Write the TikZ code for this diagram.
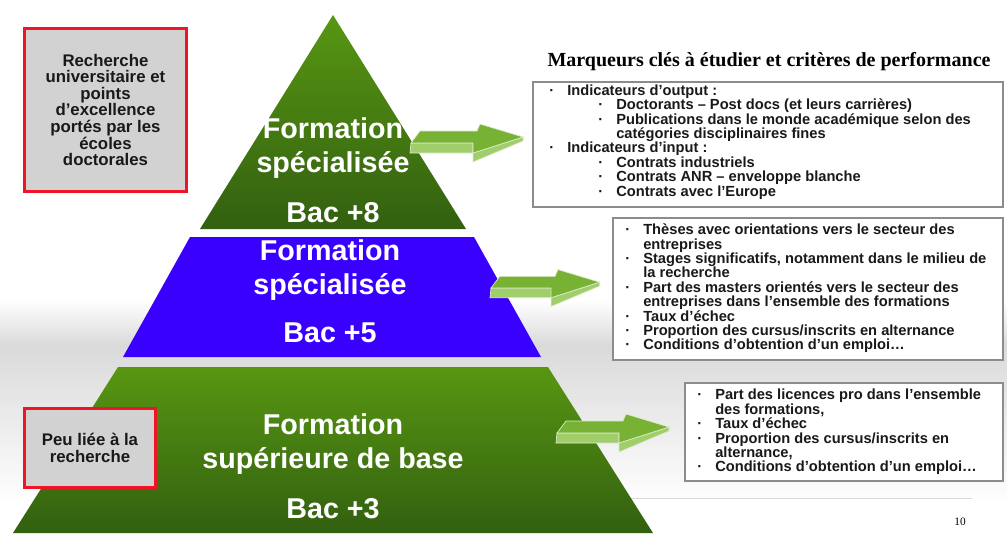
\documentclass[tikz,border=0pt]{standalone}
\usepackage{fontspec}
\setmainfont{Liberation Serif}
\setsansfont{Liberation Sans}
\usepackage{tikz}
\usetikzlibrary{calc}

\definecolor{fond}{RGB}{218,218,218}
\definecolor{vertclair}{RGB}{88,150,18}
\definecolor{vertfonce}{RGB}{50,96,16}
\definecolor{bleupyr}{RGB}{58,0,255}
\definecolor{rougecadre}{RGB}{240,20,40}
\definecolor{griscadre}{RGB}{210,210,210}
\definecolor{grisbord}{RGB}{140,140,140}
\definecolor{flechehaut}{RGB}{120,178,52}
\definecolor{flecheface}{RGB}{160,206,106}

\newcommand{\puce}{\makebox[13.5pt][l]{·}}
\newcommand{\suite}{\hspace*{13.5pt}}
\newcommand{\sousniv}{\hspace*{36.75pt}}

\begin{document}
\begin{tikzpicture}[x=0.75pt, y=-0.75pt,
    niveau/.style={font=\sffamily\bfseries\fontsize{21.5}{25.5}\selectfont,
      text=white, align=center, inner sep=0pt},
    cadre/.style={draw=rougecadre, line width=2.2pt, fill=griscadre,
      font=\sffamily\bfseries\fontsize{12.6}{12.4}\selectfont,
      text=black!90, align=center, inner sep=0pt, anchor=north west},
    liste/.style={draw=grisbord, line width=1.5pt, fill=white},
    texte liste/.style={font=\sffamily\bfseries\fontsize{11}{10.8}\selectfont,
      text=black!90, align=left, anchor=west, inner sep=0pt},
    fleche haut/.style={fill=flechehaut, draw=white!75!flechehaut, line width=0.5pt},
    fleche face/.style={fill=flecheface, draw=white!75!flechehaut, line width=0.5pt}]
  \useasboundingbox (0,0) rectangle (1007,533);

  % background band
  \fill[white] (0,0) rectangle (1007,533);
  \shade[top color=white, bottom color=fond] (0,300) rectangle (1007,345);
  \shade[top color=fond, bottom color=white] (0,345) rectangle (1007,505);
  \draw[gray!30, line width=0.75pt] (575,498) -- (972,498);

  % pyramid
  \shade[top color=vertclair, bottom color=vertfonce]
    (333,15) -- (466,229) -- (200,229) -- cycle;
  \fill[bleupyr] (190,237) -- (474,237) -- (541,357) -- (123,357) -- cycle;
  \shade[top color=vertclair, bottom color=vertfonce]
    (118,367) -- (548,367) -- (653,533) -- (13,533) -- cycle;

  \node[niveau] (fs1) at (333,148) {Formation\\spécialisée};
  \node[niveau] (bac8) at (333,213) {Bac +8};
  \node[niveau] (fs2) at (330,270) {Formation\\spécialisée};
  \node[niveau] (bac5) at (330,333) {Bac +5};
  \node[niveau] (fsb) at (333,444.5) {Formation\\supérieure de base};
  \node[niveau] (bac3) at (333,509) {Bac +3};

  % side boxes
  \node[cadre, minimum width=121.5pt, minimum height=122.25pt] (rech) at (23,27)
    {Recherche\\universitaire et\\points\\d'excellence\\portés par les\\écoles\\doctorales};
  \node[cadre, minimum width=98.25pt, minimum height=59.25pt] (peu) at (23,407)
    {Peu liée à la\\recherche};

  % arrows
  \foreach \ax/\ay/\ae in {411/143/1, 491/288/0.97, 557/433/1}{
    \begin{scope}[shift={(\ax,\ay)}, scale=\ae]
      \draw[fleche face] (0,0) -- (62,0) -- (62,10) -- (-1,10) -- cycle;
      \draw[fleche face] (62,10) -- (112,-6) -- (112,-2) -- (62,19) -- cycle;
      \draw[fleche haut] (0,0) -- (9,-12) -- (66,-12) -- (69,-19)
        -- (112,-6) -- (62,10) -- (62,0) -- cycle;
    \end{scope}
  }

  % markers
  \node[font=\bfseries\fontsize{15}{18}\selectfont] (titre) at (769,62)
    {Marqueurs clés à étudier et critères de performance};

  \draw[liste] (533,82) rectangle (1003,207);
  \node[texte liste] (doct) at (549,142)
    {\puce Indicateurs d’output :\\
     \sousniv\puce Doctorants – Post docs (et leurs carrières)\\
     \sousniv\puce Publications dans le monde académique selon des\\
     \sousniv\suite catégories disciplinaires fines\\
     \puce Indicateurs d’input :\\
     \sousniv\puce Contrats industriels\\
     \sousniv\puce Contrats ANR – enveloppe blanche\\
     \sousniv\puce Contrats avec l’Europe};

  \draw[liste] (613,218) rectangle (1003,360);
  \node[texte liste] (mast) at (625,288.5)
    {\puce Thèses avec orientations vers le secteur des\\
     \suite entreprises\\
     \puce Stages significatifs, notamment dans le milieu de\\
     \suite la recherche\\
     \puce Part des masters orientés vers le secteur des\\
     \suite entreprises dans l’ensemble des formations\\
     \puce Taux d’échec\\
     \puce Proportion des cursus/inscrits en alternance\\
     \puce Conditions d’obtention d’un emploi…};

  \draw[liste] (685,383) rectangle (1003,481);
  \node[texte liste] (lic) at (697,432)
    {\puce Part des licences pro dans l’ensemble\\
     \suite des formations,\\
     \puce Taux d'échec\\
     \puce Proportion des cursus/inscrits en\\
     \suite alternance,\\
     \puce Conditions d’obtention d’un emploi…};

  \node[font=\fontsize{8.5}{10}\selectfont] (page) at (960,522) {10};
\end{tikzpicture}
\end{document}
